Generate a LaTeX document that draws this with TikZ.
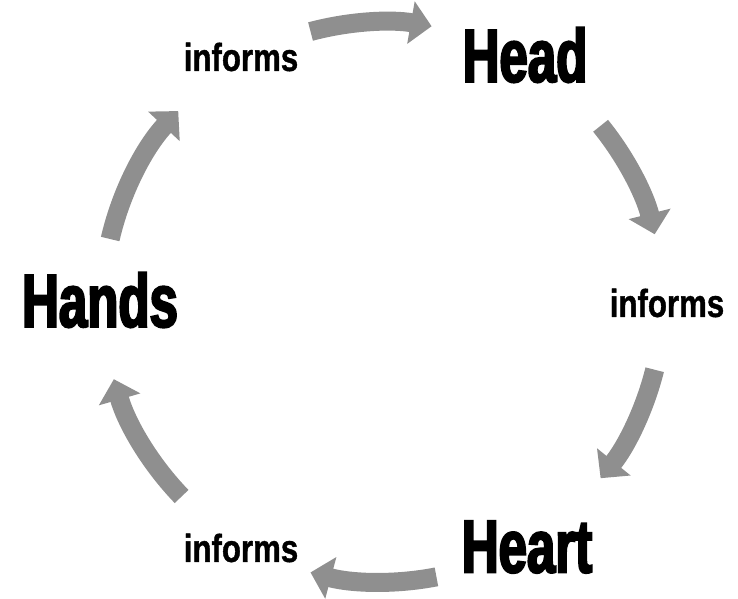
\documentclass[tikz,border=0pt]{standalone}
\usepackage{fontspec}
\usetikzlibrary{arrows.meta}
\newfontfamily\bigfont[FakeStretch=0.68,FakeBold=2.8]{Liberation Sans Bold}
\newfontfamily\smallfont[FakeStretch=0.8,FakeBold=1]{Liberation Sans Bold}
\definecolor{arrowgray}{HTML}{8F8F8F}
\begin{document}
\begin{tikzpicture}[x=1pt,y=1pt,
  bigtext/.style={font=\bigfont\fontsize{75}{75}\selectfont, inner sep=0pt},
  smalltext/.style={font=\smallfont\fontsize{39}{39}\selectfont, inner sep=0pt},
  cyclearrow/.style={draw=arrowgray, line width=19pt, -{Triangle[width=42pt,length=21pt]}, arrowgray}]
\useasboundingbox (0,0) rectangle (738,598);
\coordinate (c) at (383,296);
\node[bigtext] (head) at (525,543) {Head};
\node[smalltext] (inf1) at (241,541) {informs};
\node[smalltext] (inf2) at (667,295) {informs};
\node[bigtext] (heart) at (527,51) {Heart};
\node[smalltext] (inf3) at (241,50) {informs};
\node[bigtext] (hands) at (100,298) {Hands};
\draw[cyclearrow] ([shift={(105:280)}]c) arc[start angle=105, end angle=80, radius=280];
\draw[cyclearrow] ([shift={(39:280)}]c) arc[start angle=39, end angle=14, radius=280];
\draw[cyclearrow] ([shift={(-14:280)}]c) arc[start angle=-14, end angle=-39, radius=280];
\draw[cyclearrow] ([shift={(-79:280)}]c) arc[start angle=-79, end angle=-105, radius=280];
\draw[cyclearrow] ([shift={(224:280)}]c) arc[start angle=224, end angle=196, radius=280];
\draw[cyclearrow] ([shift={(167:280)}]c) arc[start angle=167, end angle=137, radius=280];
\end{tikzpicture}
\end{document}
